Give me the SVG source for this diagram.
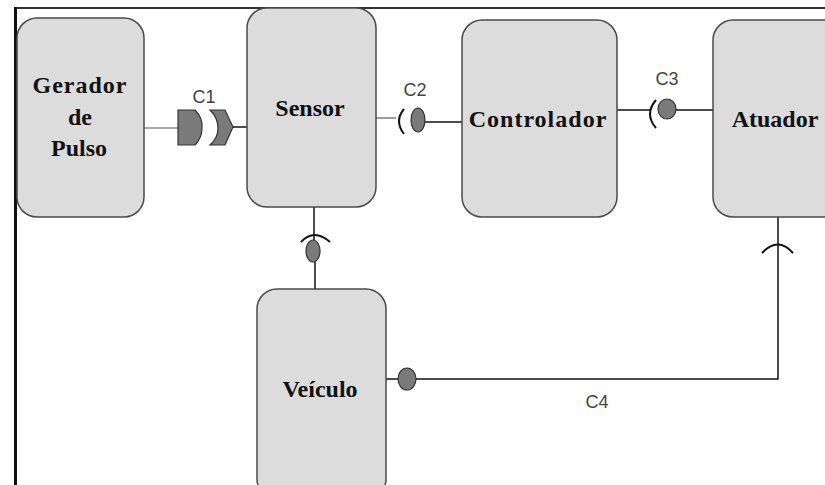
<svg xmlns="http://www.w3.org/2000/svg" width="825" height="485" viewBox="0 0 825 485">
<style>
.node rect{fill:#dcdcdc;stroke:#4a4a4a;stroke-width:1.5}
.node text{font-family:"Liberation Serif",serif;font-weight:bold;font-size:24px;fill:#111;text-anchor:middle}
.wire{stroke:#111;stroke-width:1.5;fill:none}
.thin{stroke:#555;stroke-width:1.2;fill:none}
.plug{fill:#7a7a7a;stroke:#333;stroke-width:1.2}
.socket{stroke:#111;stroke-width:2;fill:none}
.lbl{font-family:"Liberation Sans",sans-serif;font-size:18px;fill:#444;text-anchor:middle}
</style>
<rect x="0" y="0" width="825" height="485" fill="#fff"/>
<g id="frame">
<line x1="15" y1="8" x2="825" y2="8" stroke="#333" stroke-width="2"/>
<line x1="15.5" y1="7" x2="15.5" y2="485" stroke="#111" stroke-width="3"/>
</g>
<g id="connectors">
<!-- C1 -->
<line class="thin" x1="144" y1="128" x2="178" y2="128"/>
<path class="plug" d="M178,110 H195 Q203,118 202,128 Q202,138 195,145 H178 Z"/>
<path class="plug" d="M210,110 H225 L233,127 L225,145 H210 Q218,138 218,128 Q218,118 210,110 Z"/>
<line class="wire" x1="233" y1="127" x2="247" y2="127"/>
<text class="lbl" x="204" y="103">C1</text>
<!-- C2 -->
<line class="thin" x1="376" y1="118" x2="396" y2="118"/>
<path class="socket" d="M404,109 Q394,121 404,134"/>
<ellipse class="plug" cx="418" cy="120" rx="7" ry="12"/>
<line class="wire" x1="425" y1="122" x2="462" y2="122"/>
<text class="lbl" x="415" y="96">C2</text>
<!-- C3 -->
<line class="wire" x1="617" y1="110" x2="650" y2="110"/>
<path class="socket" d="M656,100 Q644,114 656,128"/>
<ellipse class="plug" cx="667" cy="109" rx="9" ry="10"/>
<line class="wire" x1="676" y1="110" x2="713" y2="110"/>
<text class="lbl" x="667" y="85">C3</text>
<!-- Sensor - Veiculo -->
<line class="wire" x1="314" y1="207" x2="314" y2="240"/>
<path class="socket" d="M301,242 Q314,228 330,242"/>
<ellipse class="plug" cx="313" cy="251" rx="7" ry="11"/>
<line class="wire" x1="315" y1="262" x2="315" y2="289"/>
<!-- C4 -->
<line class="wire" x1="386" y1="379" x2="398" y2="379"/>
<ellipse class="plug" cx="407" cy="379" rx="9" ry="11"/>
<polyline class="wire" points="416,379 778,379 778,217"/>
<path class="socket" d="M762,253 Q778,236 793,253"/>
<text class="lbl" x="597" y="408">C4</text>
</g>
<g id="gerador" class="node">
<rect x="17" y="18" width="127" height="199" rx="20"/>
<text x="80" y="93" letter-spacing="1">Gerador</text>
<text x="80" y="125">de</text>
<text x="79" y="156">Pulso</text>
</g>
<g id="sensor" class="node">
<rect x="247" y="8" width="129" height="199" rx="20"/>
<text x="310" y="116">Sensor</text>
</g>
<g id="controlador" class="node">
<rect x="462" y="20" width="155" height="197" rx="20"/>
<text x="538" y="127" letter-spacing="1">Controlador</text>
</g>
<g id="atuador" class="node">
<rect x="713" y="20" width="130" height="197" rx="20"/>
<text x="775" y="127">Atuador</text>
</g>
<g id="veiculo" class="node">
<rect x="257" y="289" width="129" height="210" rx="20"/>
<text x="320" y="397">Veículo</text>
</g>
</svg>
